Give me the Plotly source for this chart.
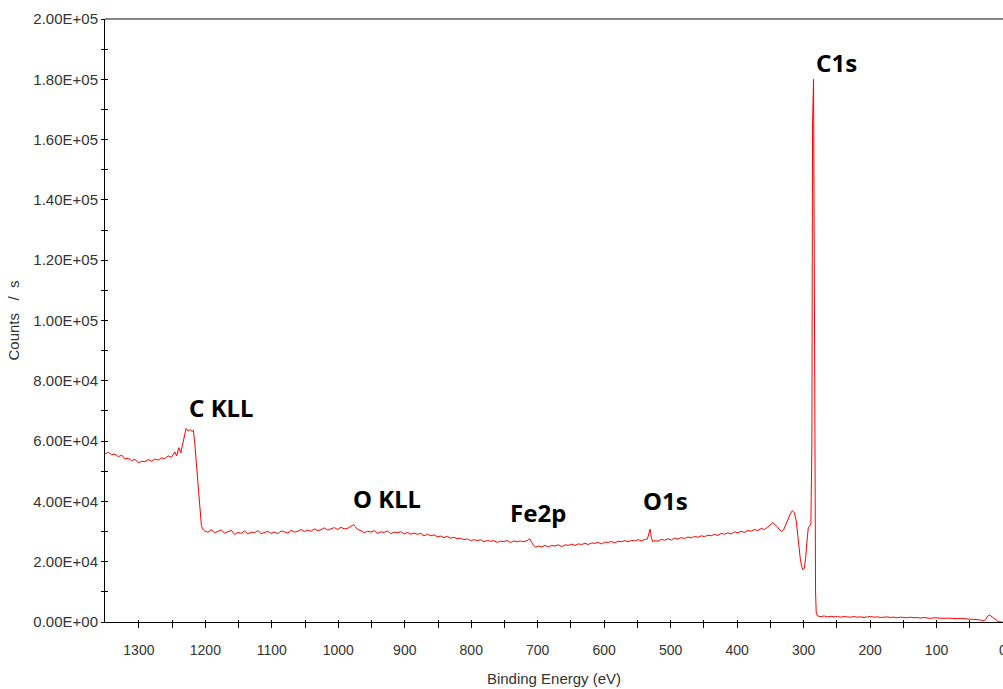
import plotly.graph_objects as go

# ---- data (binding energy in eV, counts per second) ----
binding_energy = [
    1351, 1346, 1341, 1336, 1331, 1326, 1321, 1316, 1311, 1306, 1301, 1296, 1291, 1286, 1281,
    1276, 1271, 1266, 1261, 1256, 1251, 1246, 1243, 1240, 1237, 1234, 1231, 1229, 1226, 1223,
    1220, 1218, 1216, 1214, 1212, 1210, 1208, 1206, 1204, 1201, 1196, 1191, 1186, 1181, 1176,
    1171, 1166, 1161, 1156, 1151, 1146, 1141, 1136, 1131, 1126, 1121, 1116, 1111, 1106, 1101,
    1096, 1091, 1086, 1081, 1076, 1071, 1066, 1061, 1056, 1051, 1046, 1041, 1036, 1031, 1026,
    1021, 1016, 1011, 1006, 1001, 996, 991, 986, 981, 977, 974, 971, 966, 961, 956,
    951, 946, 941, 936, 931, 926, 921, 916, 911, 906, 901, 896, 891, 886, 881,
    876, 871, 866, 861, 856, 851, 846, 841, 836, 831, 826, 821, 816, 811, 806,
    801, 796, 791, 786, 781, 776, 771, 766, 761, 756, 751, 746, 741, 736, 731,
    726, 721, 716, 712, 709, 706, 703, 699, 694, 689, 684, 679, 674, 669, 664,
    659, 654, 649, 644, 639, 634, 629, 624, 619, 614, 609, 604, 599, 594, 589,
    584, 579, 574, 569, 564, 559, 554, 549, 544, 539, 535, 533, 531, 529, 527,
    524, 519, 514, 509, 504, 499, 494, 489, 484, 479, 474, 469, 464, 459, 454,
    449, 444, 439, 434, 429, 424, 419, 414, 409, 404, 399, 394, 389, 384, 379,
    374, 369, 364, 359, 354, 349, 346, 343, 340, 337, 333, 330, 327, 324, 320,
    317, 314, 311, 309, 307, 305, 303, 301, 299, 297, 295, 293, 291, 289, 287.5,
    286.5, 285, 284, 283, 282, 281, 279, 274, 269, 264, 259, 254, 249, 244, 239,
    234, 229, 224, 219, 214, 209, 204, 199, 194, 189, 184, 179, 174, 169, 164,
    159, 154, 149, 144, 139, 134, 129, 124, 119, 114, 109, 104, 99, 94, 89,
    84, 79, 74, 69, 64, 59, 54, 49, 44, 39, 35, 32, 29, 26, 23,
    20, 17, 14, 11, 8, 5, 2,
]
counts = [
    55700, 56300, 55500, 55700, 54800, 55400, 54100, 54300, 53500, 54000, 52800, 53300, 53200, 53900, 53300,
    54100, 53700, 54400, 54200, 55100, 54600, 56400, 55100, 57800, 56100, 59400, 62000, 64200, 63300, 63800,
    63200, 63600, 59500, 54000, 48000, 41000, 35000, 32000, 30800,
    30200, 29800, 30600, 29600, 30000, 30500, 29500, 29900, 30400, 29000, 29700, 29400, 30200, 29200, 29800,
    29600, 30300, 29300, 29700, 30100, 29400, 29800, 29300, 30200, 29900, 29500, 30400, 29800, 30100, 30700,
    30000, 30500, 30100, 30900, 30300, 30600, 31200, 30500, 30900, 31300, 30700, 31400, 30900, 31100, 31700,
    32300, 31500, 30700,
    30300, 29600, 30100, 29800, 30300, 29400, 29900, 29700, 30200, 29300, 29800, 29600, 30000, 29200, 29700,
    29100, 29500, 29100, 29400, 28600, 29100, 28600, 28900, 28300, 28500, 28000, 28400, 27800, 28100, 27600,
    27800, 27300, 27600, 27000, 27300, 27000, 27300, 26600, 27000, 26800, 27000, 26400, 26800, 26700, 27000,
    26400, 26900, 26600, 26900, 26600, 27000,
    27600, 26400, 25300, 24800,
    25200, 24900, 25400, 24900, 25400, 25200, 25600, 25000, 25600, 25400, 25800, 25400, 25900, 25700, 26100,
    25700, 26200, 26100, 26400, 25900, 26500, 26400, 26700, 26200, 26800, 26600, 27000, 26600, 27100, 26900,
    27300, 26900, 27400,
    27500, 29500, 30800, 28000, 26600,
    27000, 26800, 27400, 27100, 27600, 27200, 27800, 27500, 28000, 27700, 28200, 27900, 28400, 28100, 28600,
    28300, 28800, 28600, 29100, 28700, 29400, 29100, 29600, 29200, 29900, 29600, 30100, 29700, 30400, 30100,
    30700, 30300, 31000, 30700, 31500,
    32400, 33000, 32200, 31700, 30800, 30000, 30600, 32200, 34000, 35800,
    36900, 36300, 33500, 29000, 24500, 21000, 18500, 17300, 17800, 21000, 26500, 31200, 31800, 32600, 60000,
    166000, 180000, 95000, 38000, 10000, 3000, 2000, 1800, 2000, 1700, 1900, 1700, 1800, 1600, 1800,
    1700, 1600, 1800, 1600, 1700, 1500, 1700, 1800, 1600, 1700, 1500, 1600, 1700, 1500, 1600,
    1400, 1600, 1500, 1400, 1600, 1400, 1500, 1300, 1500, 1400, 1200, 1400, 1300, 1400, 1200,
    1300, 1200, 1300, 1100, 1200, 1100, 1200, 1100, 1000, 900, 700, 500, 400, 900, 2000,
    2300, 1800, 1000, 600, 300, 100, 0,
]

# ---- axes ----
x_tick_values = [1300, 1250, 1200, 1150, 1100, 1050, 1000, 950, 900, 850, 800, 750, 700, 650,
                 600, 550, 500, 450, 400, 350, 300, 250, 200, 150, 100, 50, 0]
x_tick_labels = ["1300", "", "1200", "", "1100", "", "1000", "", "900", "", "800", "", "700", "",
                 "600", "", "500", "", "400", "", "300", "", "200", "", "100", "", "0"]
y_tick_values = [0, 10000, 20000, 30000, 40000, 50000, 60000, 70000, 80000, 90000, 100000,
                 110000, 120000, 130000, 140000, 150000, 160000, 170000, 180000, 190000, 200000]
y_tick_labels = ["0.00E+00", "", "2.00E+04", "", "4.00E+04", "", "6.00E+04", "", "8.00E+04", "",
                 "1.00E+05", "", "1.20E+05", "", "1.40E+05", "", "1.60E+05", "", "1.80E+05", "",
                 "2.00E+05"]
x_range = [1351, 0]
y_range = [0, 200000]

# ---- peak labels ----
peak_names = ["C1s", "C KLL", "O KLL", "Fe2p", "O1s"]
peak_label_x = [251, 1176, 926, 700, 508]
peak_label_y = [185700, 71300, 41000, 36300, 40300]

x_tick_font = dict(family="Liberation Sans, Arial, sans-serif", size=14, color="#333333")
y_tick_font = dict(family="Liberation Sans, Arial, sans-serif", size=15, color="#333333")
title_font = dict(family="Liberation Sans, Arial, sans-serif", size=15, color="#333333")

fig = go.Figure()
fig.add_trace(go.Scatter(
    x=binding_energy, y=counts, mode="lines",
    line=dict(color="#ff0000", width=1), hoverinfo="skip", showlegend=False,
))
# empty trace for the overlay axes (inner half of the crossing ticks)
fig.add_trace(go.Scatter(x=[], y=[], xaxis="x2", yaxis="y2", showlegend=False))

for name, px, py in zip(peak_names, peak_label_x, peak_label_y):
    fig.add_annotation(
        x=px, y=py, text="<b>%s</b>" % name, showarrow=False,
        xanchor="center", yanchor="middle",
        font=dict(family="Noto Sans, Open Sans, sans-serif", size=24, color="#000000"),
    )

fig.update_layout(
    width=1003, height=689,
    margin=dict(l=105, r=0, t=19, b=67, autoexpand=False),
    paper_bgcolor="white", plot_bgcolor="white",
    xaxis=dict(
        range=x_range, tickmode="array", tickvals=x_tick_values, ticktext=x_tick_labels,
        ticks="outside", ticklen=5, tickwidth=1, tickcolor="#000000",
        showline=True, linecolor="#000000", linewidth=1,
        showgrid=False, zeroline=False, tickfont=x_tick_font,
        ticklabelstandoff=10, ticklabeloverflow="allow",
        title=dict(text="Binding Energy (eV)", font=title_font, standoff=16),
    ),
    yaxis=dict(
        range=y_range, tickmode="array", tickvals=y_tick_values, ticktext=y_tick_labels,
        ticks="outside", ticklen=3, tickwidth=1, tickcolor="#000000",
        showline=True, linecolor="#000000", linewidth=1,
        showgrid=False, zeroline=False, tickfont=y_tick_font,
        title=dict(text="Counts\u00a0\u00a0\u00a0/\u00a0\u00a0s", font=title_font, standoff=10),
    ),
    xaxis2=dict(
        range=x_range, overlaying="x", anchor="y2", side="bottom",
        tickmode="array", tickvals=x_tick_values, ticks="inside", ticklen=2,
        tickcolor="#000000", showticklabels=False, showline=False, showgrid=False, zeroline=False,
    ),
    yaxis2=dict(
        range=y_range, overlaying="y", anchor="x2", side="left",
        tickmode="array", tickvals=y_tick_values, ticks="inside", ticklen=3,
        tickcolor="#000000", showticklabels=False, showline=False, showgrid=False, zeroline=False,
    ),
    shapes=[dict(type="line", xref="paper", yref="paper", x0=0, x1=1, y0=1, y1=1,
                 line=dict(color="#858585", width=2), layer="above")],
)

fig.write_html(
    "out.html",
    config={"displayModeBar": False, "staticPlot": True},
    post_script="document.body.style.margin='0px';document.body.style.overflow='hidden';",
)
